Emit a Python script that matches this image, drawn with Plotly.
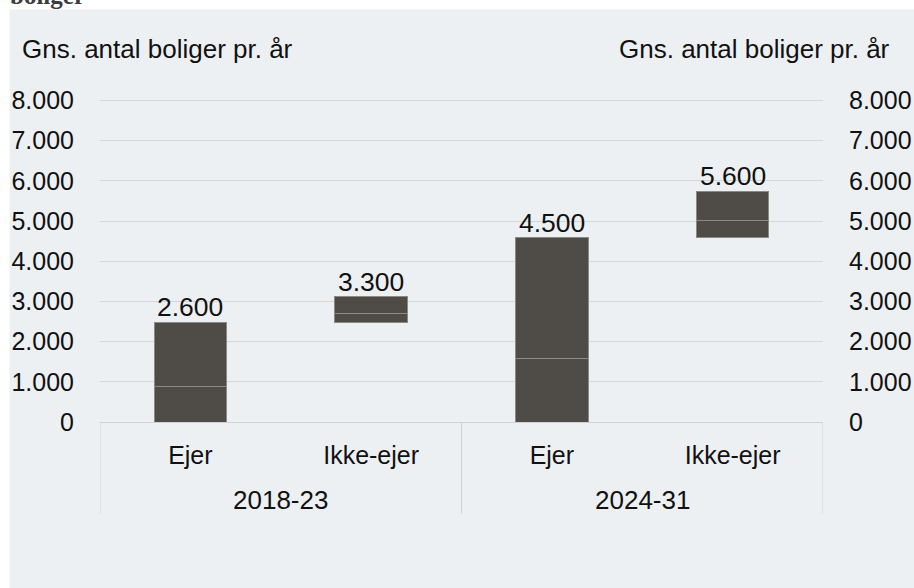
import plotly.graph_objects as go

# ---- data ----
periods = ["2018-23", "2024-31"]
groups = ["Ejer", "Ikke-ejer", "Ejer", "Ikke-ejer"]
base = [0, 2478, 0, 4578]          # invisible offset (waterfall)
lower = [871, 209, 1592, 423]      # lower visible segment
upper = [1607, 423, 2986, 737]     # upper visible segment
labels = ["2.600", "3.300", "4.500", "5.600"]
yticks = [0, 1000, 2000, 3000, 4000, 5000, 6000, 7000, 8000]
yticktext = ["0", "1.000", "2.000", "3.000", "4.000", "5.000", "6.000", "7.000", "8.000"]
ytitle = "Gns. antal boliger pr. år"

W, H = 914, 588
YMAX = 8060
SCALE = 40.1875 / 1000.0            # px per unit
L, R, B = 99.5, 823, 422.3          # plot area in px
T = B - YMAX * SCALE

def px_x(px):
    return (px - L) / (R - L)

def px_y(py):
    return (B - py) / (B - T)

FONT = "Liberation Sans, Arial, sans-serif"
BAR = "#4f4b47"
EDGE = "#8c8884"
GRID = "#d6d6d6"
PANEL = "#edf0f3"

x = list(range(len(groups)))

fig = go.Figure()
fig.add_trace(go.Bar(x=x, y=base, marker=dict(color="rgba(0,0,0,0)", line=dict(width=0)),
                     width=0.4, hoverinfo="skip", showlegend=False))
fig.add_trace(go.Bar(x=x, y=lower, marker=dict(color=BAR, line=dict(color=EDGE, width=1)),
                     width=0.4, showlegend=False))
fig.add_trace(go.Bar(x=x, y=upper, marker=dict(color=BAR, line=dict(color=EDGE, width=1)),
                     width=0.4, showlegend=False))
# invisible trace to activate right axis
fig.add_trace(go.Scatter(x=[x[0]], y=[0], yaxis="y2", mode="markers",
                         marker=dict(opacity=0), hoverinfo="skip", showlegend=False))

annotations = []
for i in x:
    top = base[i] + lower[i] + upper[i]
    annotations.append(dict(x=i, y=top, xref="x", yref="y", text=labels[i], showarrow=False,
                            yanchor="bottom", yshift=-2, font=dict(family=FONT, size=26.5, color="#111111")))
# period labels
for k, p in enumerate(periods):
    annotations.append(dict(x=2 * k + 0.5, y=px_y(500.7), xref="x", yref="paper", text=p,
                            showarrow=False, yanchor="middle",
                            font=dict(family=FONT, size=26, color="#111111")))
# axis titles
annotations.append(dict(x=px_x(19), y=px_y(49), xref="paper", yref="paper", text=ytitle,
                        showarrow=False, xanchor="left", yanchor="middle",
                        font=dict(family=FONT, size=26, color="#111111")))
annotations.append(dict(x=px_x(892), y=px_y(49), xref="paper", yref="paper", text=ytitle,
                        showarrow=False, xanchor="right", yanchor="middle",
                        font=dict(family=FONT, size=26, color="#111111")))
# cut-off heading remnant
annotations.append(dict(x=px_x(7), y=px_y(11), xref="paper", yref="paper", text="<b>boliger</b>",
                        showarrow=False, xanchor="left", yanchor="bottom",
                        font=dict(family="Liberation Serif, DejaVu Serif, serif", size=25, color="#3c3c3c")))

shapes = [
    dict(type="rect", xref="paper", yref="paper", x0=px_x(9), x1=px_x(W + 5), y0=px_y(10), y1=px_y(H + 5),
         fillcolor=PANEL, line=dict(width=0), layer="below"),
]
for xv in [-0.5, 1.5, 3.5]:
    shapes.append(dict(type="line", xref="x", yref="paper", x0=xv, x1=xv, y0=0, y1=px_y(514),
                       line=dict(color="#cfd2d5", width=1)))

fig.update_layout(
    width=W, height=H, autosize=False,
    margin=dict(l=L, r=W - R, t=T, b=H - B, pad=0, autoexpand=False),
    paper_bgcolor="white",
    plot_bgcolor="rgba(0,0,0,0)",
    barmode="stack",
    font=dict(family=FONT, size=25, color="#111111"),
    xaxis=dict(range=[-0.5, 3.5], tickvals=x, ticktext=groups, ticks="outside", ticklen=11,
               tickcolor="rgba(0,0,0,0)", showgrid=False, zeroline=False, showline=True,
               linecolor="#cfd2d5", linewidth=1, tickfont=dict(size=25), fixedrange=True,
               automargin=False),
    yaxis=dict(range=[0, YMAX], tickvals=yticks, ticktext=yticktext, showgrid=True,
               gridcolor=GRID, gridwidth=1, zeroline=False, ticks="outside", ticklen=20,
               tickcolor="rgba(0,0,0,0)", tickfont=dict(size=25), showline=False, automargin=False),
    yaxis2=dict(range=[0, YMAX], tickvals=yticks, ticktext=yticktext, overlaying="y", side="right",
                showgrid=False, zeroline=False, ticks="outside", ticklen=20,
                tickcolor="rgba(0,0,0,0)", tickfont=dict(size=25), showline=False, automargin=False),
    annotations=annotations,
    shapes=shapes,
)

post = "document.body.style.margin='0';document.body.style.overflow='hidden';"
fig.write_html("out.html", config={"displayModeBar": False, "responsive": False}, post_script=post)
